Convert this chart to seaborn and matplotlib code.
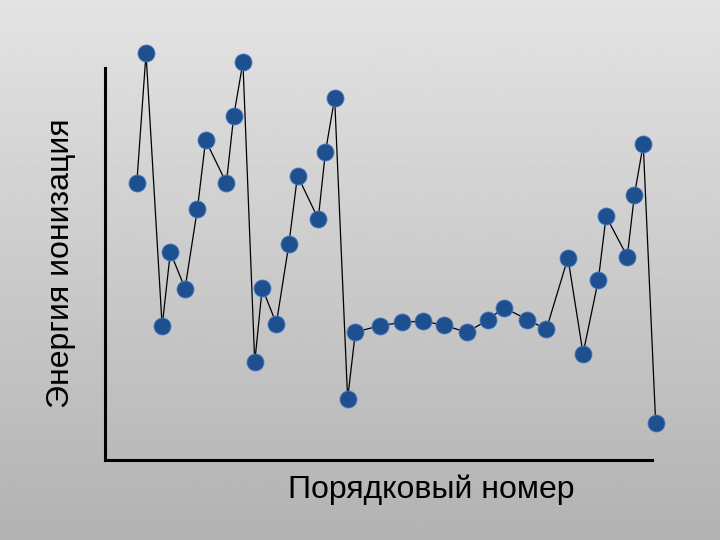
import numpy as np
import matplotlib
matplotlib.use("Agg")
from matplotlib import pyplot as plt
import seaborn as sns

# readings (arbitrary units)
order_num = [1.00, 1.64, 2.76, 3.33, 4.35, 5.21, 5.78, 7.22, 7.73, 8.37,
             9.19, 9.71, 10.69, 11.56, 12.16, 13.60, 14.10, 14.74, 15.64, 16.18,
             17.87, 19.43, 20.87, 22.30, 23.90, 25.36, 26.48, 28.13, 29.44, 30.94,
             31.99, 33.05, 33.59, 35.06, 35.56, 36.17, 37.03]
energy = [16.78, 24.64, 8.10, 12.60, 10.39, 15.23, 19.38, 16.78, 20.85, 24.10,
          5.92, 10.43, 8.26, 13.08, 17.24, 14.61, 18.67, 21.93, 3.71, 7.76,
          8.13, 8.35, 8.41, 8.18, 7.74, 8.47, 9.24, 8.51, 7.91, 12.25,
          6.45, 10.91, 14.77, 12.33, 16.08, 19.13, 2.27]
x_label = "Порядковый номер"
y_label = "Энергия ионизация"

sns.set_style("white")
plt.rcParams['font.family'] = ['Liberation Sans', 'DejaVu Sans']

fig = plt.figure(figsize=(7.2, 5.4), dpi=100)

# gradient background
bg = fig.add_axes([0, 0, 1, 1], zorder=0)
grad = np.linspace(0.89, 0.70, 256).reshape(-1, 1)
bg.imshow(grad, aspect='auto', cmap='gray', vmin=0, vmax=1, extent=[0, 1, 0, 1])
bg.axis('off')

ax = fig.add_axes([0, 0, 1, 1], zorder=1)
ax.patch.set_alpha(0)
sns.lineplot(x=order_num, y=energy, ax=ax, color='black', lw=0.9, sort=False)
sns.scatterplot(x=order_num, y=energy, ax=ax, color='#1e4f8f', s=150,
                edgecolor='#4a7cc0', linewidth=0.6, zorder=3)

ax.set_xlim(-8.5, 41.5)
ax.set_ylim(-4.85, 27.88)
for side in ['top', 'right']:
    ax.spines[side].set_visible(False)
for side in ['left', 'bottom']:
    ax.spines[side].set_visible(True)
    ax.spines[side].set_color('black')
    ax.spines[side].set_linewidth(2.2)
ax.spines['left'].set_position(('data', -1.2))
ax.spines['bottom'].set_position(('data', 0))
ax.spines['left'].set_bounds(0, 23.76)
ax.spines['bottom'].set_bounds(-1.2, 36.8)
ax.set_xticks([])
ax.set_yticks([])

fig.text(0.599, 0.093, x_label, ha='center', va='center', fontsize=23, color='black')
fig.text(0.085, 0.513, y_label, ha='center', va='center', fontsize=23,
         rotation=90, color='black')

fig.savefig("out.png", dpi=100)
